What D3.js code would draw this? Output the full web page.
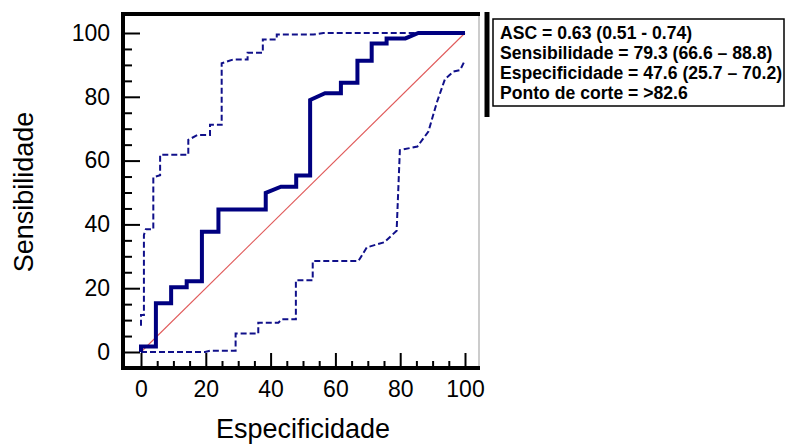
<!DOCTYPE html>
<html>
<head>
<meta charset="utf-8">
<script src="https://cdn.jsdelivr.net/npm/d3@7"></script>
<style>
  body { margin: 0; background: #fff; }
  #chart { width: 786px; height: 445px; }
  text { font-family: Arial, "Liberation Sans", sans-serif; }
</style>
</head>
<body>
<div id="chart"></div>
<script>
// ROC curve (x = 100 - especificidade, y = sensibilidade)
const rocX = [0, 0, 4.6, 4.6, 9.3, 9.3, 14.1, 14.1, 18.8, 18.8, 23.9, 23.9, 38.5, 38.5, 43.2, 47.9, 47.9, 52.2, 52.2, 56.8, 61.7, 61.7, 66.8, 66.8, 71.2, 71.2, 75.8, 75.8, 81.6, 85.6, 100];
const rocY = [0, 1.7, 1.7, 15.3, 15.3, 20.3, 20.3, 22.2, 22.2, 37.7, 37.7, 44.7, 44.7, 49.9, 51.8, 51.8, 55.3, 55.3, 79.0, 81.1, 81.1, 84.4, 84.4, 91.3, 91.3, 96.7, 96.7, 98.3, 98.3, 100, 100];

// upper confidence bound
const upperX = [0, 0, 0.9, 0.9, 1.5, 3.8, 3.8, 5.9, 5.9, 14.6, 14.6, 17.4, 21.3, 21.3, 24.9, 24.9, 28.5, 32.9, 32.9, 37.6, 37.6, 41.9, 41.9, 53.2, 56.3, 100];
const upperY = [8.2, 11.6, 11.6, 36.7, 38.5, 38.5, 54.8, 55.4, 61.8, 61.8, 66.5, 68.0, 68.0, 71.2, 71.2, 90.5, 91.7, 91.7, 93.8, 93.8, 98.0, 98.0, 99.5, 99.5, 100, 100];

// lower confidence bound
const lowerX = [0, 19.8, 21.4, 29.2, 29.2, 36.2, 36.2, 42.4, 43.5, 47.8, 47.8, 53.0, 53.0, 67.1, 69.7, 75.1, 75.1, 78.9, 78.9, 79.9, 85.3, 85.3, 88.7, 88.7, 91.3, 91.3, 93.8, 93.8, 96.4, 98.5, 98.5, 100, 100];
const lowerY = [0, 0, 0.4, 0.4, 5.8, 5.8, 9.2, 9.2, 10.3, 10.3, 22.5, 22.5, 28.5, 28.5, 32.8, 34.4, 34.4, 38.0, 38.0, 63.3, 64.4, 64.4, 69.1, 69.1, 78.2, 78.2, 85.5, 85.5, 87.9, 88.4, 88.4, 91.5, 91.5, 100];

const majorTicks = [0, 20, 40, 60, 80, 100];
const minorTicks = d3.range(0, 101, 5).filter(v => v % 20 !== 0);

const legendLines = [
    "ASC = 0.63 (0.51 - 0.74)",
    "Sensibilidade = 79.3 (66.6 \u2013 88.8)",
    "Especificidade = 47.6 (25.7 \u2013 70.2)",
    "Ponto de corte = >82.6"
];

const width = 786, height = 445;
const frame = { left: 123, right: 479, top: 14, bottom: 368 };

const svg = d3.select("#chart")
    .append("svg")
    .attr("width", width)
    .attr("height", height);

const xScale = d3.scaleLinear().domain([0, 100]).range([141, 465]);
const yScale = d3.scaleLinear().domain([0, 100]).range([352, 33]);

//frame: right side thin and grey, the others thick
svg.append("line")
    .attr("x1", frame.right).attr("x2", frame.right)
    .attr("y1", frame.top).attr("y2", frame.bottom)
    .attr("stroke", "#999").attr("stroke-width", 1);
svg.append("path")
    .attr("d", `M${frame.right + 1},${frame.top} H${frame.left} V${frame.bottom} H${frame.right + 1}`)
    .attr("fill", "none")
    .attr("stroke", "#000")
    .attr("stroke-width", 4);

//ticks point inwards, labels sit outside
const yMajor = svg.append("g")
    .attr("transform", `translate(${frame.left},0)`)
    .call(d3.axisRight(yScale).tickValues(majorTicks).tickSize(17).tickFormat(""));
const yMinor = svg.append("g")
    .attr("transform", `translate(${frame.left},0)`)
    .call(d3.axisRight(yScale).tickValues(minorTicks).tickSize(9).tickFormat(""));
const yLabels = svg.append("g")
    .attr("transform", `translate(${frame.left},0)`)
    .call(d3.axisLeft(yScale).tickValues(majorTicks).tickSize(0).tickPadding(13));

const xMajor = svg.append("g")
    .attr("transform", `translate(0,${frame.bottom})`)
    .call(d3.axisTop(xScale).tickValues(majorTicks).tickSize(15).tickFormat(""));
const xMinor = svg.append("g")
    .attr("transform", `translate(0,${frame.bottom})`)
    .call(d3.axisTop(xScale).tickValues(minorTicks).tickSize(7).tickFormat(""));
const xLabels = svg.append("g")
    .attr("transform", `translate(0,${frame.bottom})`)
    .call(d3.axisBottom(xScale).tickValues(majorTicks).tickSize(0).tickPadding(13));

svg.selectAll(".domain").remove();
svg.selectAll(".tick line").attr("stroke", "#000").attr("stroke-width", 2);
yLabels.selectAll("text").attr("font-size", 23).attr("fill", "#000");
xLabels.selectAll("text").attr("font-size", 23).attr("fill", "#000");

//diagonal reference line
svg.append("line")
    .attr("x1", xScale(0)).attr("y1", yScale(0))
    .attr("x2", xScale(100)).attr("y2", yScale(100))
    .attr("stroke", "#e05a5a")
    .attr("stroke-width", 1.1);

const line = d3.line().x(d => xScale(d[0])).y(d => yScale(d[1]));

svg.append("path")
    .attr("d", line(upperX.map((v, i) => [v, upperY[i]])))
    .attr("fill", "none")
    .attr("stroke", "#10108a")
    .attr("stroke-width", 2)
    .attr("stroke-dasharray", "6,3");

svg.append("path")
    .attr("d", line(lowerX.map((v, i) => [v, lowerY[i]])))
    .attr("fill", "none")
    .attr("stroke", "#10108a")
    .attr("stroke-width", 2)
    .attr("stroke-dasharray", "6,3");

svg.append("path")
    .attr("d", line(rocX.map((v, i) => [v, rocY[i]])))
    .attr("fill", "none")
    .attr("stroke", "#000080")
    .attr("stroke-width", 4);

//axis titles
svg.append("text")
    .attr("x", 303)
    .attr("y", 438)
    .attr("text-anchor", "middle")
    .attr("font-size", 27)
    .text("Especificidade");

svg.append("text")
    .attr("transform", "rotate(-90)")
    .attr("x", -192)
    .attr("y", 33)
    .attr("text-anchor", "middle")
    .attr("font-size", 27)
    .text("Sensibilidade");

//legend box with the summary numbers
const legend = svg.append("g");
legend.append("line")
    .attr("x1", 487).attr("x2", 487)
    .attr("y1", 12).attr("y2", 117)
    .attr("stroke", "#000")
    .attr("stroke-width", 5);
legend.append("rect")
    .attr("x", 493).attr("y", 19)
    .attr("width", 291).attr("height", 87)
    .attr("fill", "#fff")
    .attr("stroke", "#000")
    .attr("stroke-width", 1.5);
legend.selectAll("text.leg")
    .data(legendLines)
    .enter()
    .append("text")
    .attr("class", "leg")
    .attr("x", 500)
    .attr("y", (d, i) => 39 + i * 20)
    .attr("font-size", 17.6)
    .attr("font-weight", "bold")
    .text(d => d);
</script>
</body>
</html>
